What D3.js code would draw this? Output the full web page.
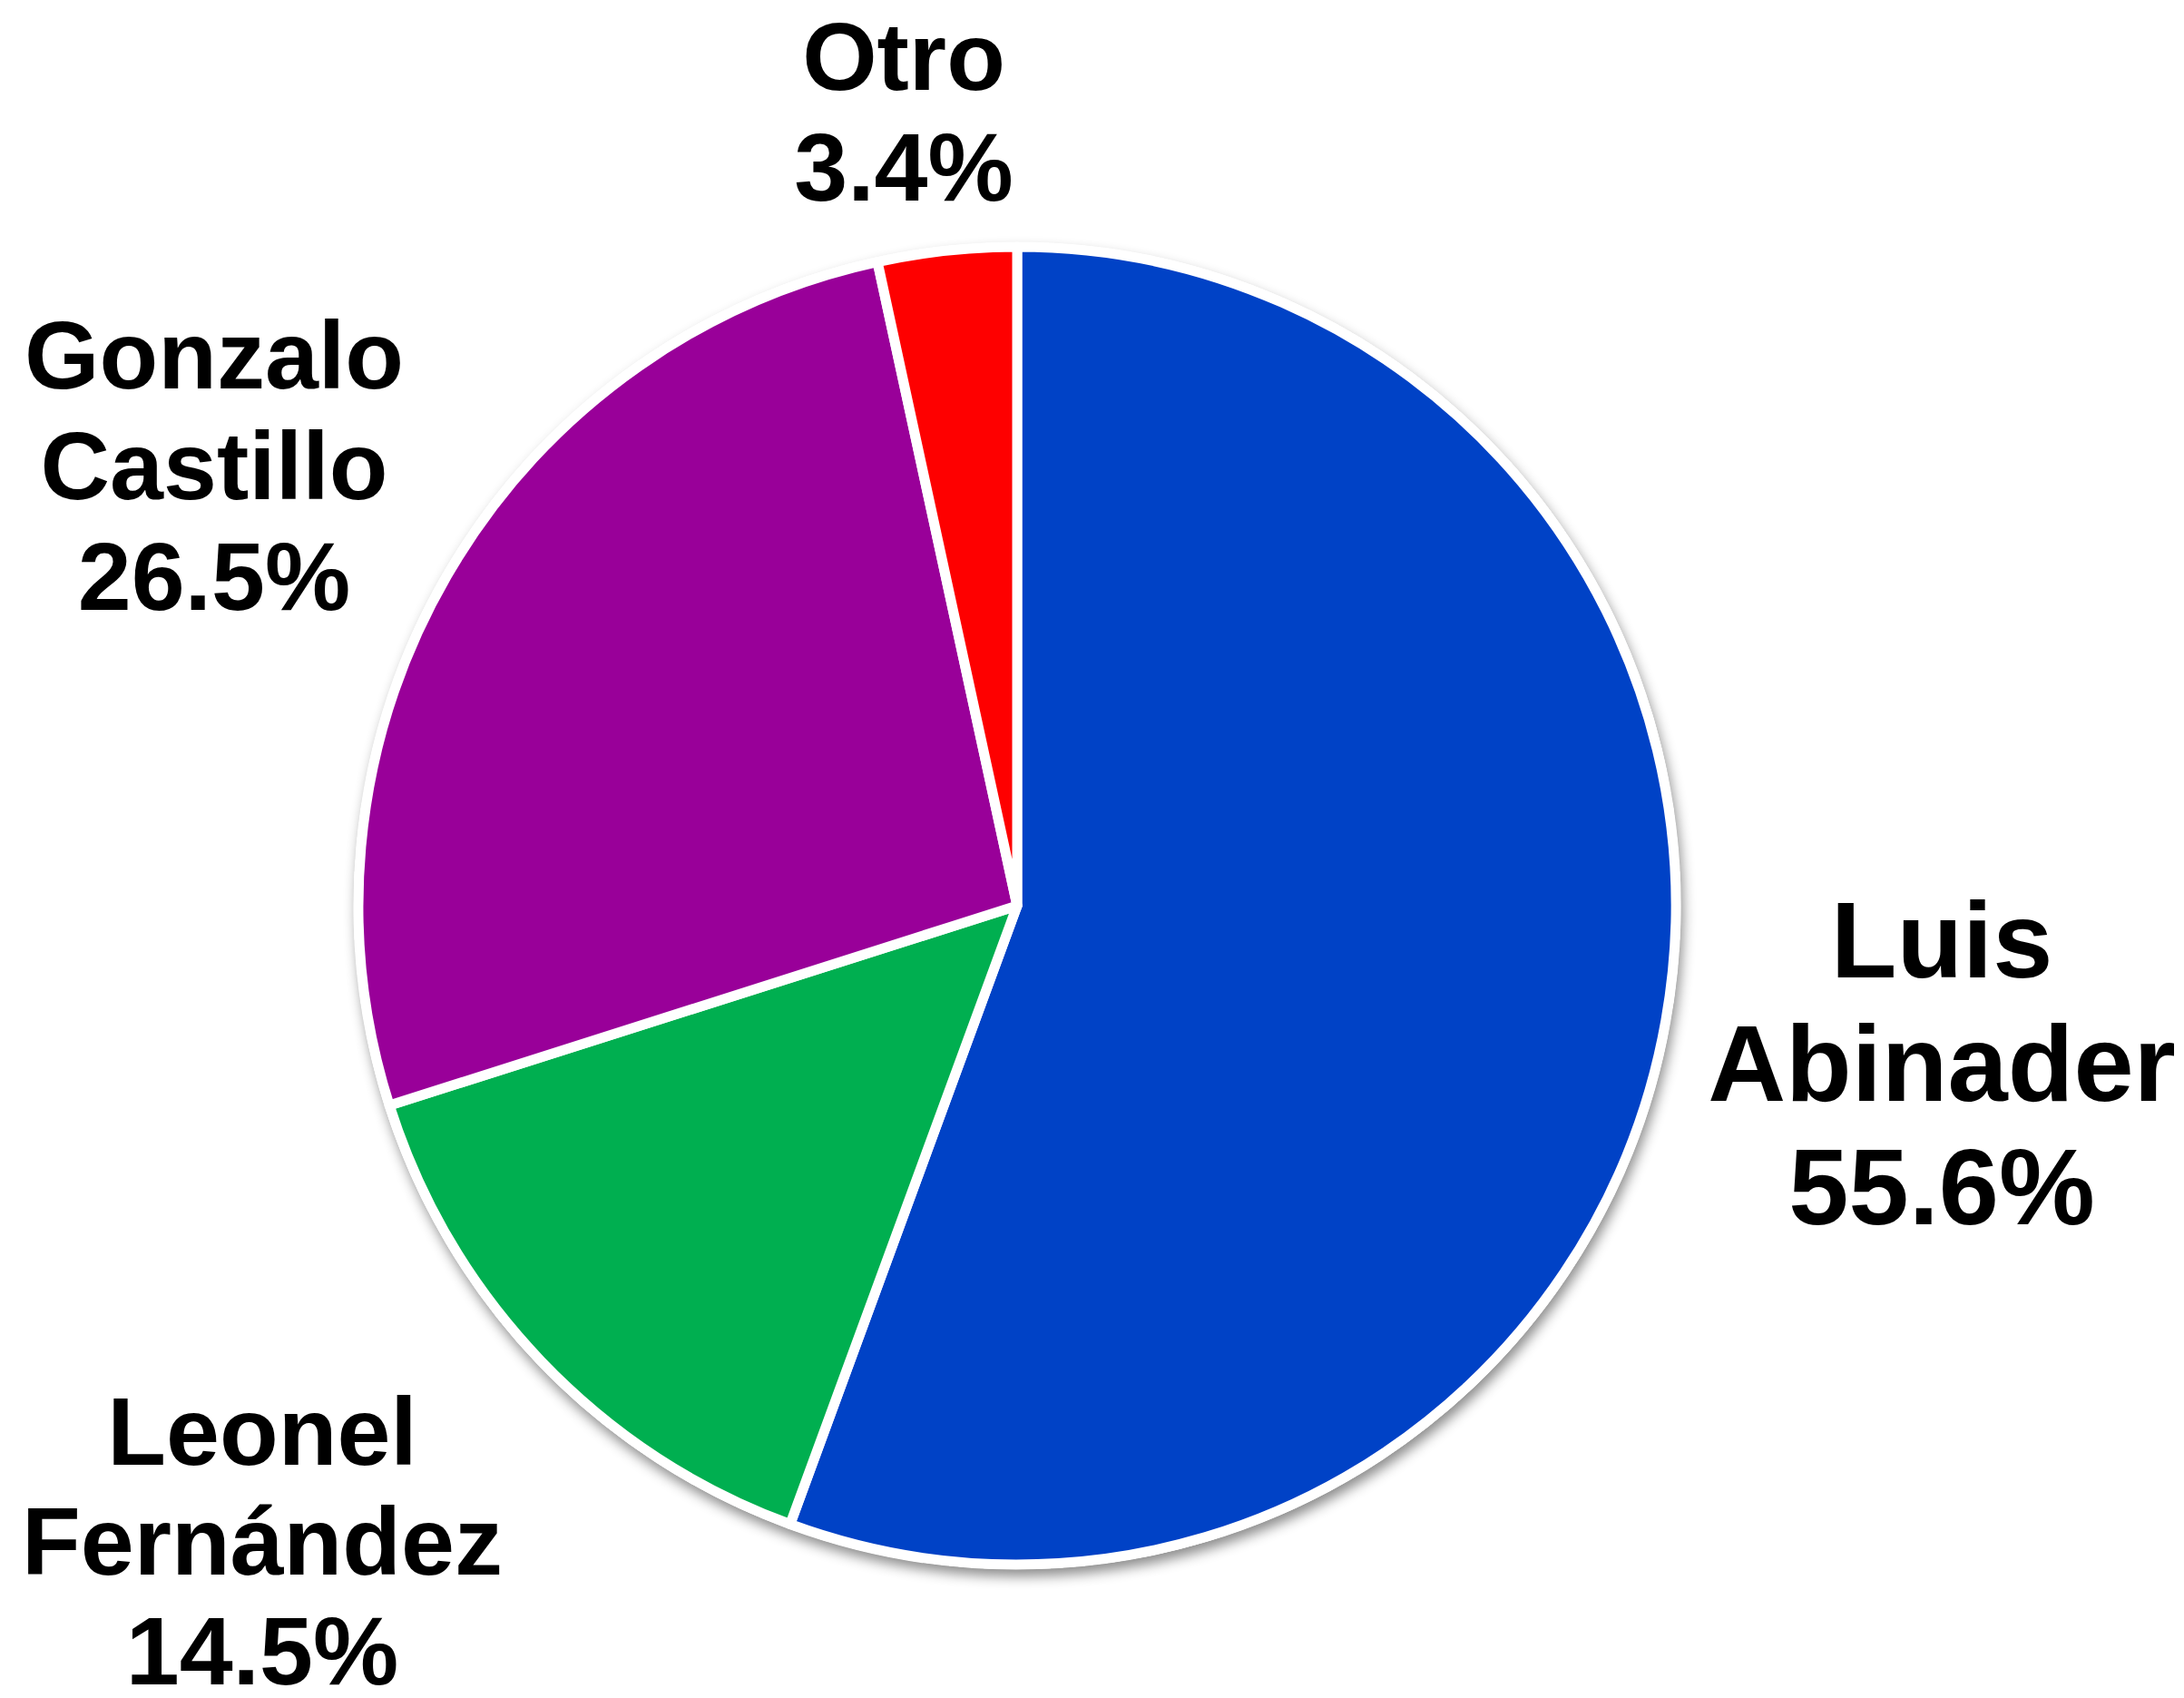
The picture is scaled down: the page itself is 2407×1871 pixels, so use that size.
<!DOCTYPE html>
<html>
<head>
<meta charset="utf-8">
<script src="https://cdn.jsdelivr.net/npm/d3@7"></script>
<style>
  html, body { margin: 0; padding: 0; background: #ffffff; }
  svg { display: block; }
</style>
</head>
<body>
<div id="chart"></div>
<script>
// chart data
var candidates = ["Luis Abinader", "Leonel Fernández", "Gonzalo Castillo", "Otro"];
var shares = [55.6, 14.5, 26.5, 3.4];
var sliceColors = ["#0042C6", "#00AF50", "#990099", "#FE0000"];
// label lines, one array per slice
var labelLines = [
    ["Luis", "Abinader", "55.6%"],
    ["Leonel", "Fernández", "14.5%"],
    ["Gonzalo", "Castillo", "26.5%"],
    ["Otro", "3.4%"]
];

var svgWidth = 2407;
var svgHeight = 1871;
var cx = 1121, cy = 998;
var radius = 726;

var svg = d3.select("#chart")
    .append("svg")
    .attr("width", svgWidth)
    .attr("height", svgHeight);

// drop shadow for the pie disc
var defs = svg.append("defs");
var filter = defs.append("filter")
    .attr("id", "shadow")
    .attr("x", "-10%").attr("y", "-10%")
    .attr("width", "120%").attr("height", "120%");
filter.append("feDropShadow")
    .attr("dx", 3)
    .attr("dy", 8)
    .attr("stdDeviation", 7)
    .attr("flood-color", "#000")
    .attr("flood-opacity", 0.45);

var pieGroup = svg.append("g")
    .attr("transform", `translate(${cx}, ${cy})`);

// white disc behind the slices, gives the rim and the shadow
pieGroup.append("circle")
    .attr("r", radius + 5)
    .attr("fill", "#ffffff")
    .attr("filter", "url(#shadow)");

var pie = d3.pie()
    .sort(null)
    .value(d => d);

var arc = d3.arc()
    .innerRadius(0)
    .outerRadius(radius);

pieGroup.selectAll(".slice")
    .data(pie(shares))
    .enter()
    .append("path")
    .classed("slice", true)
    .attr("d", arc)
    .attr("fill", (d, i) => sliceColors[i])
    .attr("stroke", "#ffffff")
    .attr("stroke-width", 11)
    .attr("stroke-linejoin", "round");

// label positions (center x, first baseline, font size, line gap)
var labelPos = [
    {x: 2140, y: 1077, size: 119, gap: 136},
    {x: 289, y: 1614, size: 106, gap: 121},
    {x: 236, y: 428, size: 106, gap: 122},
    {x: 996, y: 99, size: 106, gap: 122}
];

labelLines.forEach(function(lines, i) {
    var p = labelPos[i];
    var t = svg.append("text")
        .attr("text-anchor", "middle")
        .attr("font-family", "'Liberation Sans', Arial, Helvetica, sans-serif")
        .attr("font-weight", "bold")
        .attr("font-size", p.size + "px")
        .attr("fill", "#000000");
    lines.forEach(function(line, j) {
        t.append("tspan")
            .attr("x", p.x)
            .attr("y", p.y + j * p.gap)
            .text(line);
    });
});
</script>
</body>
</html>
